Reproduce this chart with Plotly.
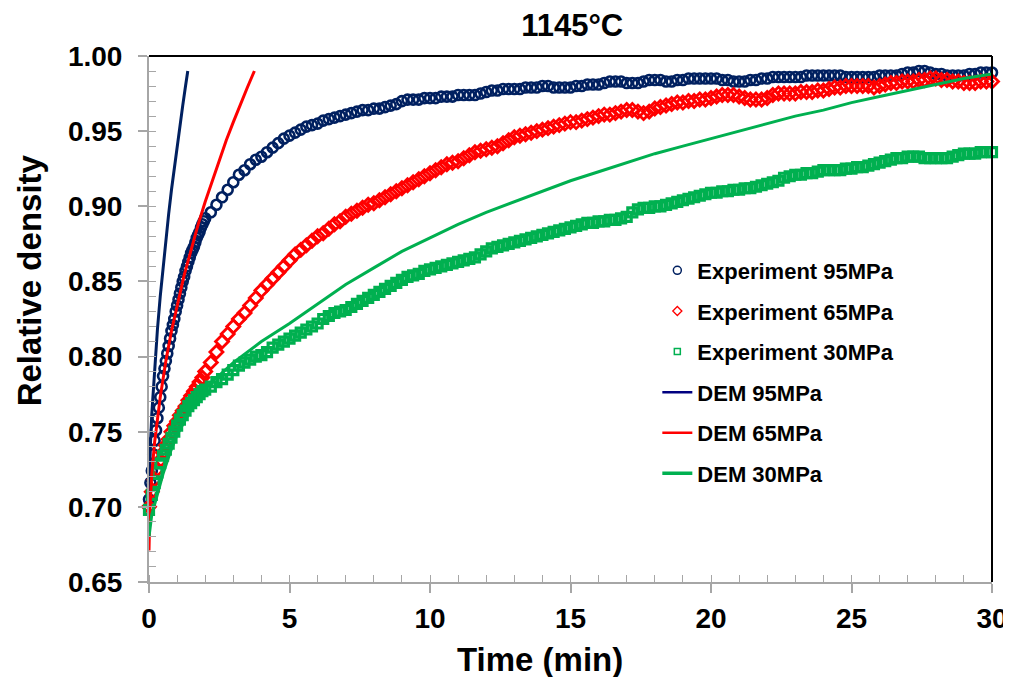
import plotly.graph_objects as go

TITLE = "1145°C"
X_TITLE = "Time (min)"
Y_TITLE = "Relative density"
X_TICKS = [0, 5, 10, 15, 20, 25, 30]
Y_TICKS = [0.65, 0.70, 0.75, 0.80, 0.85, 0.90, 0.95, 1.00]

NAMES = ["Experiment 95MPa", "Experiment 65MPa", "Experiment 30MPa",
         "DEM 95MPa", "DEM 65MPa", "DEM 30MPa"]

# ---- Experiment 95 MPa: early samples every 0.05 min from 0, later every 0.2 min from 2.2
EXP95_EARLY = [0.705, 0.716, 0.724, 0.735, 0.744, 0.751, 0.759, 0.766, 0.773, 0.780,
               0.787, 0.792, 0.797, 0.802, 0.807, 0.812, 0.817, 0.821, 0.825, 0.830,
               0.834, 0.838, 0.842, 0.846, 0.850, 0.853, 0.857, 0.860, 0.863, 0.866,
               0.869, 0.871, 0.873, 0.876, 0.879, 0.881, 0.883, 0.886, 0.888, 0.890,
               0.892]
EXP95_LATE = [0.896, 0.901, 0.906, 0.911, 0.916, 0.921, 0.924, 0.928, 0.931, 0.933,
              0.936, 0.939, 0.942, 0.945, 0.947, 0.949, 0.951, 0.953, 0.954, 0.955,
              0.957, 0.958, 0.959, 0.960, 0.961, 0.962, 0.963, 0.964, 0.964, 0.965,
              0.965, 0.966, 0.967, 0.968, 0.970, 0.971, 0.971, 0.971, 0.972, 0.972,
              0.972, 0.973, 0.973, 0.973, 0.974, 0.974, 0.974, 0.974, 0.975, 0.976,
              0.977, 0.977, 0.978, 0.978, 0.978, 0.978, 0.979, 0.979, 0.979, 0.980,
              0.980, 0.979, 0.979, 0.979, 0.979, 0.980, 0.980, 0.981, 0.981, 0.981,
              0.982, 0.983, 0.983, 0.983, 0.982, 0.982, 0.982, 0.983, 0.984, 0.984,
              0.984, 0.983, 0.983, 0.984, 0.984, 0.985, 0.985, 0.985, 0.985, 0.985,
              0.985, 0.984, 0.984, 0.983, 0.983, 0.983, 0.984, 0.984, 0.985, 0.985,
              0.986, 0.986, 0.986, 0.986, 0.986, 0.986, 0.987, 0.987, 0.987, 0.987,
              0.987, 0.987, 0.987, 0.986, 0.986, 0.986, 0.986, 0.986, 0.986, 0.987,
              0.987, 0.987, 0.987, 0.988, 0.989, 0.989, 0.990, 0.990, 0.989, 0.988,
              0.988, 0.987, 0.987, 0.987, 0.987, 0.988, 0.988, 0.989, 0.989, 0.989]

# ---- Experiment 65 MPa: early every 0.1 min from 0, later every 0.2 min from 2.2
EXP65_EARLY = [0.700, 0.710, 0.718, 0.725, 0.731, 0.736, 0.741, 0.745, 0.750, 0.754,
               0.757, 0.761, 0.764, 0.767, 0.771, 0.774, 0.777, 0.780, 0.783, 0.786,
               0.790]
EXP65_LATE = [0.796, 0.803, 0.810, 0.815, 0.820, 0.825, 0.829, 0.834, 0.839, 0.844,
              0.848, 0.852, 0.856, 0.860, 0.864, 0.868, 0.871, 0.874, 0.877, 0.880,
              0.882, 0.885, 0.888, 0.890, 0.893, 0.895, 0.897, 0.899, 0.901, 0.902,
              0.904, 0.906, 0.908, 0.910, 0.912, 0.914, 0.916, 0.918, 0.920, 0.922,
              0.924, 0.926, 0.928, 0.929, 0.930, 0.932, 0.934, 0.936, 0.937, 0.938,
              0.939, 0.940, 0.942, 0.944, 0.946, 0.947, 0.948, 0.949, 0.950, 0.951,
              0.952, 0.953, 0.954, 0.955, 0.956, 0.956, 0.957, 0.958, 0.959, 0.960,
              0.961, 0.961, 0.962, 0.963, 0.964, 0.964, 0.963, 0.962, 0.963, 0.965,
              0.966, 0.967, 0.968, 0.969, 0.969, 0.970, 0.970, 0.971, 0.971, 0.972,
              0.973, 0.974, 0.974, 0.974, 0.973, 0.972, 0.971, 0.971, 0.971, 0.972,
              0.974, 0.975, 0.975, 0.975, 0.975, 0.976, 0.976, 0.976, 0.977, 0.977,
              0.978, 0.979, 0.979, 0.980, 0.980, 0.980, 0.980, 0.980, 0.979, 0.980,
              0.981, 0.982, 0.982, 0.983, 0.983, 0.983, 0.984, 0.984, 0.985, 0.985,
              0.984, 0.984, 0.983, 0.983, 0.982, 0.982, 0.982, 0.983, 0.983, 0.983]

# ---- Experiment 30 MPa: early every 0.1 min from 0, later every 0.2 min from 2.2
EXP30_EARLY = [0.698, 0.708, 0.716, 0.723, 0.729, 0.734, 0.738, 0.742, 0.746, 0.750,
               0.754, 0.758, 0.761, 0.764, 0.767, 0.769, 0.771, 0.773, 0.775, 0.777,
               0.778]
EXP30_LATE = [0.780, 0.783, 0.785, 0.788, 0.791, 0.794, 0.796, 0.798, 0.800, 0.801,
              0.803, 0.806, 0.808, 0.810, 0.812, 0.814, 0.816, 0.818, 0.820, 0.822,
              0.825, 0.827, 0.829, 0.830, 0.831, 0.833, 0.835, 0.837, 0.839, 0.841,
              0.843, 0.845, 0.847, 0.849, 0.851, 0.853, 0.854, 0.855, 0.857, 0.858,
              0.859, 0.860, 0.861, 0.862, 0.863, 0.864, 0.865, 0.866, 0.868, 0.870,
              0.872, 0.873, 0.874, 0.875, 0.876, 0.877, 0.878, 0.879, 0.880, 0.881,
              0.882, 0.883, 0.884, 0.885, 0.886, 0.887, 0.888, 0.889, 0.889, 0.890,
              0.890, 0.891, 0.891, 0.892, 0.893, 0.896, 0.898, 0.899, 0.899, 0.900,
              0.900, 0.901, 0.902, 0.903, 0.904, 0.905, 0.906, 0.907, 0.908, 0.909,
              0.909, 0.910, 0.910, 0.911, 0.911, 0.912, 0.912, 0.913, 0.914, 0.915,
              0.916, 0.917, 0.919, 0.920, 0.921, 0.921, 0.922, 0.922, 0.923, 0.924,
              0.924, 0.924, 0.924, 0.925, 0.925, 0.926, 0.926, 0.927, 0.928, 0.929,
              0.930, 0.931, 0.932, 0.932, 0.933, 0.933, 0.933, 0.932, 0.932, 0.932,
              0.932, 0.932, 0.933, 0.934, 0.935, 0.935, 0.935, 0.936, 0.936, 0.936]

# ---- DEM simulations
DEM95_T = [0, 0.02, 0.05, 0.1, 0.2, 0.3, 0.4, 0.5, 0.6, 0.7, 0.8, 0.9, 1.0, 1.1, 1.2, 1.3, 1.38]
DEM95_V = [0.700, 0.724, 0.741, 0.762, 0.793, 0.818, 0.840, 0.860, 0.878, 0.895, 0.911,
           0.926, 0.940, 0.954, 0.967, 0.980, 0.990]

DEM65_T = [0, 0.01, 0.03, 0.1, 0.2, 0.4, 0.6, 0.8, 1.0, 1.25, 1.5, 1.75, 2.0, 2.25,
           2.5, 2.75, 3.0, 3.25, 3.5, 3.75]
DEM65_V = [0.671, 0.687, 0.698, 0.722, 0.743, 0.773, 0.797, 0.817, 0.834, 0.854, 0.871,
           0.888, 0.903, 0.917, 0.931, 0.944, 0.956, 0.968, 0.979, 0.990]

DEM30_T = [0, 0.05, 0.1, 0.25, 0.5, 0.75, 1.0, 1.5, 2, 3, 4, 5, 6, 7, 8, 9, 10, 11, 12,
           13, 14, 15, 16, 17, 18, 19, 20, 21, 22, 23, 24, 25, 26, 27, 28, 29, 30]
DEM30_V = [0.680, 0.690, 0.695, 0.705, 0.722, 0.736, 0.748, 0.765, 0.779, 0.796, 0.810,
           0.822, 0.835, 0.848, 0.859, 0.870, 0.879, 0.888, 0.896, 0.903, 0.910, 0.917,
           0.923, 0.929, 0.935, 0.940, 0.945, 0.950, 0.955, 0.960, 0.964, 0.969, 0.973,
           0.977, 0.981, 0.985, 0.988]

NAVY = "#002060"
RED = "#FF0000"
GREEN = "#00B050"
FONT = "Liberation Sans, Arial, sans-serif"


def sample_times(start, step, n):
    return [round(start + i * step, 3) for i in range(n)]


t95 = sample_times(0, 0.05, len(EXP95_EARLY)) + sample_times(2.2, 0.2, len(EXP95_LATE))
t65 = sample_times(0, 0.1, len(EXP65_EARLY)) + sample_times(2.2, 0.2, len(EXP65_LATE))
t30 = sample_times(0, 0.1, len(EXP30_EARLY)) + sample_times(2.2, 0.2, len(EXP30_LATE))

fig = go.Figure()

# experiment data (thick rings so that the dense samples form a band, as in the source)
fig.add_trace(go.Scatter(x=t95, y=EXP95_EARLY + EXP95_LATE, mode="markers", name=NAMES[0],
                         showlegend=False, cliponaxis=False,
                         marker=dict(symbol="circle-open", size=10, color=NAVY,
                                     line=dict(width=2.6, color=NAVY))))
fig.add_trace(go.Scatter(x=t65, y=EXP65_EARLY + EXP65_LATE, mode="markers", name=NAMES[1],
                         showlegend=False, cliponaxis=False,
                         marker=dict(symbol="diamond-open", size=10, color=RED,
                                     line=dict(width=2.8, color=RED))))
fig.add_trace(go.Scatter(x=t30, y=EXP30_EARLY + EXP30_LATE, mode="markers", name=NAMES[2],
                         showlegend=False, cliponaxis=False,
                         marker=dict(symbol="square-open", size=9, color=GREEN,
                                     line=dict(width=3.2, color=GREEN))))
fig.add_trace(go.Scatter(x=DEM95_T, y=DEM95_V, mode="lines", name=NAMES[3], showlegend=False,
                         line=dict(color=NAVY, width=3)))
fig.add_trace(go.Scatter(x=DEM65_T, y=DEM65_V, mode="lines", name=NAMES[4], showlegend=False,
                         line=dict(color=RED, width=3)))
fig.add_trace(go.Scatter(x=DEM30_T, y=DEM30_V, mode="lines", name=NAMES[5], showlegend=False,
                         line=dict(color=GREEN, width=3)))

# legend entries (thin symbols as in the source legend)
legend_styles = [
    dict(mode="markers", marker=dict(symbol="circle-open", size=8, color=NAVY,
                                     line=dict(width=1.5, color=NAVY))),
    dict(mode="markers", marker=dict(symbol="diamond-open", size=7, color=RED,
                                     line=dict(width=1.3, color=RED))),
    dict(mode="markers", marker=dict(symbol="square-open", size=6, color=GREEN,
                                     line=dict(width=1.5, color=GREEN))),
    dict(mode="lines", line=dict(color="#000080", width=2.5)),
    dict(mode="lines", line=dict(color=RED, width=2.5)),
    dict(mode="lines", line=dict(color=GREEN, width=3.5)),
]
for i, (name, st) in enumerate(zip(NAMES, legend_styles)):
    fig.add_trace(go.Scatter(x=[None], y=[None], name=name, legendgroup=f"g{i}",
                             showlegend=True, **st))

AXIS_GRAY = "#A6A6A6"

# the page body adds an 8 px offset, so the figure is 8 px smaller than the window
fig.update_layout(
    width=1003, height=669,
    margin=dict(l=141, r=19, t=48, b=95, autoexpand=False),
    paper_bgcolor="white", plot_bgcolor="white",
    font=dict(family=FONT, size=28, color="black", weight="bold"),
    title=dict(text=TITLE, x=0.502, xref="paper", y=0.975, yref="container",
               xanchor="center", yanchor="middle",
               font=dict(family=FONT, size=31, color="black", weight="bold")),
    showlegend=True,
    legend=dict(x=0.603, y=0.632, xanchor="left", yanchor="top",
                bgcolor="rgba(0,0,0,0)", tracegroupgap=9,
                font=dict(family=FONT, size=22, color="black", weight="bold"),
                itemsizing="trace"),
    xaxis=dict(range=[0, 30], tickvals=X_TICKS, ticktext=[str(v) for v in X_TICKS],
               automargin=False,
               showgrid=False, zeroline=False, showline=True, linecolor=AXIS_GRAY,
               linewidth=2, ticks="outside", ticklen=9, tickwidth=1.5, tickcolor=AXIS_GRAY,
               ticklabelstandoff=1,
               minor=dict(dtick=1, ticks="inside", ticklen=7, tickwidth=1.2,
                          tickcolor=AXIS_GRAY, showgrid=False),
               tickfont=dict(family=FONT, size=28, color="black", weight="bold")),
    yaxis=dict(range=[0.65, 1.0], tickvals=Y_TICKS, ticktext=[f"{v:.2f}" for v in Y_TICKS],
               automargin=False,
               showgrid=False, zeroline=False, showline=True, linecolor=AXIS_GRAY,
               linewidth=2, ticks="outside", ticklen=9, tickwidth=1.5, tickcolor=AXIS_GRAY,
               ticklabelstandoff=10,
               minor=dict(dtick=0.01, ticks="inside", ticklen=7, tickwidth=1.2,
                          tickcolor=AXIS_GRAY, showgrid=False),
               tickfont=dict(family=FONT, size=28, color="black", weight="bold")),
    shapes=[
        dict(type="line", xref="paper", yref="paper", x0=0, x1=1, y0=1, y1=1,
             line=dict(color="black", width=2)),
        dict(type="line", xref="paper", yref="paper", x0=1, x1=1, y0=0, y1=1,
             line=dict(color="black", width=2)),
    ],
    annotations=[
        dict(text=X_TITLE, xref="paper", yref="paper", x=0.4638, y=-0.148,
             xanchor="center", yanchor="middle", showarrow=False,
             font=dict(family=FONT, size=33, color="black", weight="bold")),
        dict(text=Y_TITLE, xref="paper", yref="paper", x=-0.142, y=0.574,
             xanchor="center", yanchor="middle", showarrow=False, textangle=-90,
             font=dict(family=FONT, size=33, color="black", weight="bold")),
    ],
)

fig.write_html("out.html")
